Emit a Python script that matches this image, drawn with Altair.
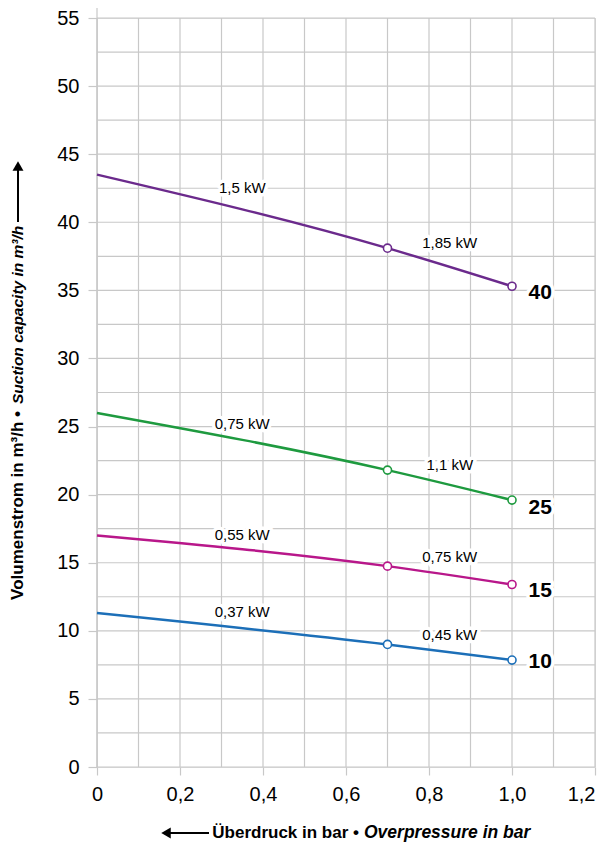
import altair as alt
import pandas as pd

# ---- data ----
series = ["40", "25", "15", "10"]
colors = ["#6b2a8c", "#1e9a3f", "#b8178a", "#1c6fb8"]
pressure = [0.0, 0.7, 1.0]
flow_40 = [43.5, 38.1, 35.3]
flow_25 = [26.0, 21.8, 19.6]
flow_15 = [17.0, 14.75, 13.4]
flow_10 = [11.3, 9.0, 7.85]

marker_x = [0.7, 1.0]

kw_text = ["1,5 kW", "1,85 kW", "0,75 kW", "1,1 kW", "0,55 kW", "0,75 kW", "0,37 kW", "0,45 kW"]
kw_x = [0.35, 0.85, 0.35, 0.85, 0.35, 0.85, 0.35, 0.85]
kw_y = [42.5, 38.5, 25.2, 22.2, 17.0, 15.4, 11.4, 9.7]

label_x = [1.04, 1.04, 1.04, 1.04]
label_y = [34.8, 19.0, 12.9, 7.7]

x_ticks = [0.0, 0.2, 0.4, 0.6, 0.8, 1.0, 1.2]
y_ticks = [0, 5, 10, 15, 20, 25, 30, 35, 40, 45, 50, 55]
x_grid = [0.0, 0.1, 0.2, 0.3, 0.4, 0.5, 0.6, 0.7, 0.8, 0.9, 1.0, 1.1, 1.2]
y_grid = [0, 2.5, 5, 7.5, 10, 12.5, 15, 17.5, 20, 22.5, 25, 27.5, 30, 32.5,
          35, 37.5, 40, 42.5, 45, 47.5, 50, 52.5, 55]

FONT = "Liberation Sans"
W, H = 498, 749
GRID = "#c8c8c8"

flows = [flow_40, flow_25, flow_15, flow_10]
rows = []
for s, f in zip(series, flows):
    for x, y in zip(pressure, f):
        rows.append({"s": s, "x": x, "y": y})
df = pd.DataFrame(rows)
df_mark = df[df["x"].isin(marker_x)]

kw_df = pd.DataFrame({"t": kw_text, "x": kw_x, "y": kw_y})
lab_df = pd.DataFrame({"t": series, "x": label_x, "y": label_y})

xs = alt.Scale(domain=[0, 1.2], nice=False, zero=False)
ys = alt.Scale(domain=[0, 55], nice=False, zero=False)
cs = alt.Scale(domain=series, range=colors)

x_axis = alt.Axis(values=x_ticks, grid=False, domain=False, tickColor=GRID, tickSize=8,
                  tickWidth=1.2, labelFontSize=20, labelFont=FONT, labelColor="black",
                  labelPadding=9, labelFlush=False, labelOverlap=False, title=None,
                  labelAlign=alt.condition("datum.value >= 1.19", alt.value("right"), alt.value("center")),
                  labelExpr="datum.value == 0 ? '0' : replace(format(datum.value, '.1f'), '.', ',')")
y_axis = alt.Axis(values=y_ticks, grid=False, domain=False, tickColor=GRID, tickSize=9,
                  tickWidth=1.2, labelFontSize=20, labelFont=FONT, labelColor="black",
                  labelPadding=9, labelFlush=False, labelOverlap=False, title=None)

vgrid = alt.Chart(pd.DataFrame({"x": x_grid})).mark_rule(color=GRID, strokeWidth=1.2).encode(
    x=alt.X("x:Q", scale=xs, axis=x_axis),
    y=alt.value(0), y2=alt.value(H))
vgrid0 = alt.Chart(pd.DataFrame({"x": [0.0]})).mark_rule(color=GRID, strokeWidth=1.2).encode(
    x=alt.X("x:Q", scale=xs), y=alt.value(-10), y2=alt.value(H))
hgrid = alt.Chart(pd.DataFrame({"y": y_grid})).mark_rule(color=GRID, strokeWidth=1.2).encode(
    y=alt.Y("y:Q", scale=ys, axis=y_axis),
    x=alt.value(0), x2=alt.value(W))

lines = alt.Chart(df).mark_line(strokeWidth=2.5, interpolate="monotone").encode(
    x=alt.X("x:Q", scale=xs), y=alt.Y("y:Q", scale=ys),
    color=alt.Color("s:N", scale=cs, legend=None), detail="s:N")
pts = alt.Chart(df_mark).mark_point(shape="circle", filled=False, fill="white", fillOpacity=1,
                                    size=65, strokeWidth=1.6, opacity=1).encode(
    x=alt.X("x:Q", scale=xs), y=alt.Y("y:Q", scale=ys),
    color=alt.Color("s:N", scale=cs, legend=None))

kw_halo = alt.Chart(kw_df).mark_text(font=FONT, fontSize=15, color="white", stroke="white",
                                     strokeWidth=7, strokeJoin="round").encode(
    x=alt.X("x:Q", scale=xs), y=alt.Y("y:Q", scale=ys), text="t:N")
kw_txt = alt.Chart(kw_df).mark_text(font=FONT, fontSize=15, color="black").encode(
    x=alt.X("x:Q", scale=xs), y=alt.Y("y:Q", scale=ys), text="t:N")

lab_halo = alt.Chart(lab_df).mark_text(font=FONT, fontSize=21, fontWeight="bold", align="left",
                                       color="white", stroke="white", strokeWidth=7,
                                       strokeJoin="round").encode(
    x=alt.X("x:Q", scale=xs), y=alt.Y("y:Q", scale=ys), text="t:N")
lab_txt = alt.Chart(lab_df).mark_text(font=FONT, fontSize=21, fontWeight="bold", align="left",
                                      color="black").encode(
    x=alt.X("x:Q", scale=xs), y=alt.Y("y:Q", scale=ys), text="t:N")

# axis titles with arrows
XT_Y = 815
one = pd.DataFrame({"a": [0]})
xt1 = alt.Chart(one).mark_text(font=FONT, fontSize=17, fontWeight="bold", align="right",
                               baseline="middle", text="Überdruck in bar •").encode(
    x=alt.value(262), y=alt.value(XT_Y))
xt2 = alt.Chart(one).mark_text(font=FONT, fontSize=17.5, fontWeight="bold", fontStyle="italic",
                               align="left", baseline="middle", text="Overpressure in bar").encode(
    x=alt.value(267), y=alt.value(XT_Y))
xarr = alt.Chart(one).mark_rule(color="black", strokeWidth=2).encode(
    x=alt.value(72), x2=alt.value(112), y=alt.value(XT_Y))
xhead = alt.Chart(one).mark_point(shape="triangle-left", filled=True, color="black",
                                  size=120, opacity=1).encode(x=alt.value(69), y=alt.value(XT_Y))

YT_X = -79
yt1 = alt.Chart(one).mark_text(font=FONT, fontSize=17, fontWeight="bold", align="right",
                               baseline="middle", angle=270, text="Volumenstrom in m³/h •").encode(
    x=alt.value(YT_X), y=alt.value(393))
yt2 = alt.Chart(one).mark_text(font=FONT, fontSize=15.5, fontWeight="bold", fontStyle="italic",
                               align="left", baseline="middle", angle=270,
                               text="Suction capacity in m³/h").encode(
    x=alt.value(YT_X), y=alt.value(386))
yarr = alt.Chart(one).mark_rule(color="black", strokeWidth=2).encode(
    y=alt.value(150), y2=alt.value(204), x=alt.value(YT_X))
yhead = alt.Chart(one).mark_point(shape="triangle-up", filled=True, color="black",
                                  size=120, opacity=1).encode(x=alt.value(YT_X), y=alt.value(148))

chart = alt.layer(
    vgrid, vgrid0, hgrid, lines, pts, kw_halo, kw_txt, lab_halo, lab_txt,
    xt1, xt2, xarr, xhead, yt1, yt2, yarr, yhead
).properties(
    width=W, height=H,
    autosize=alt.AutoSizeParams(type="none"),
    padding={"left": 89, "top": 10, "right": 4, "bottom": 76},
).configure_view(stroke=None).configure(background="white")

chart.save("out.html", embed_options={"renderer": "svg", "actions": False})
